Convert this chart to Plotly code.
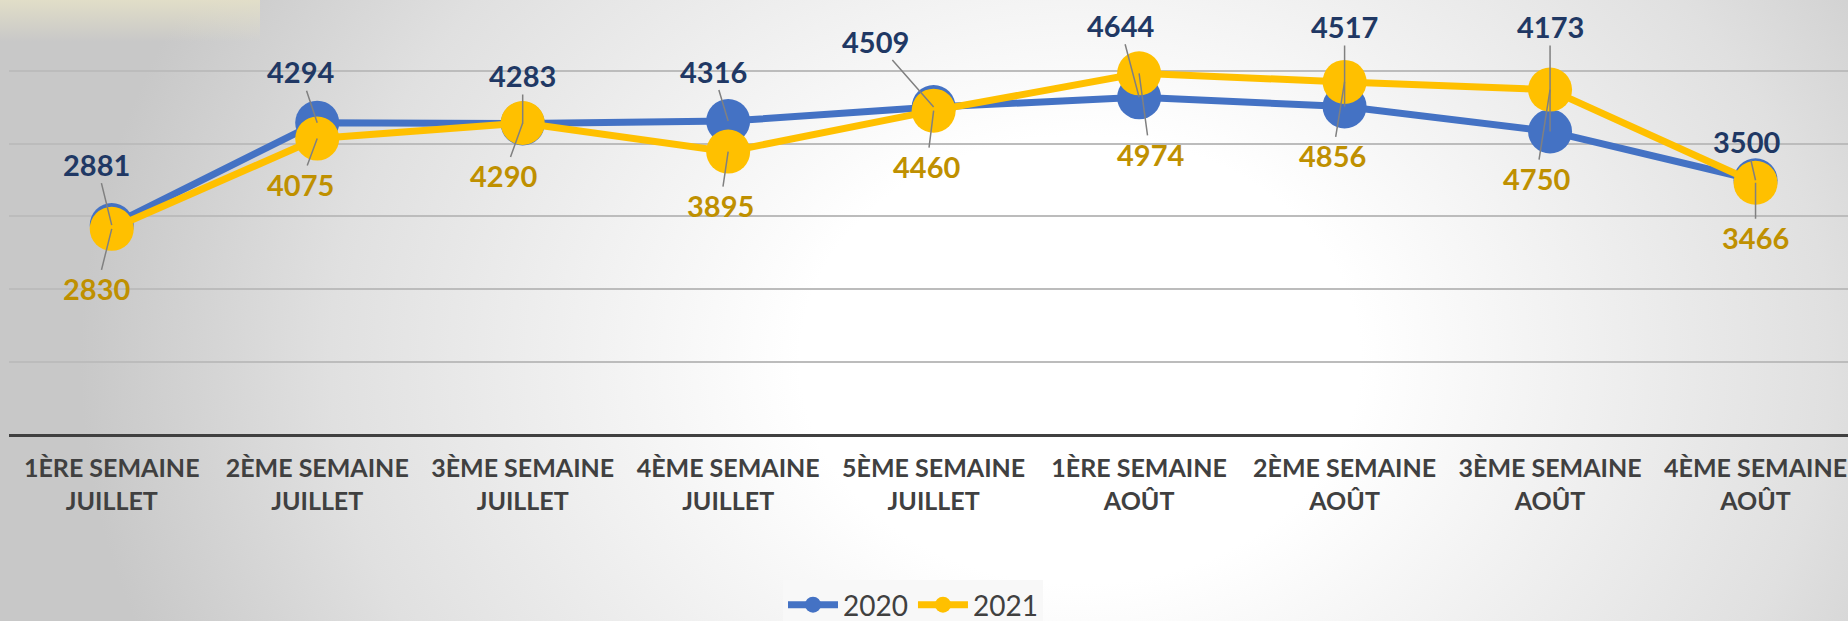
import base64
import plotly.graph_objects as go

categories = [
    "1ÈRE SEMAINE<br>JUILLET", "2ÈME SEMAINE<br>JUILLET", "3ÈME SEMAINE<br>JUILLET",
    "4ÈME SEMAINE<br>JUILLET", "5ÈME SEMAINE<br>JUILLET", "1ÈRE SEMAINE<br>AOÛT",
    "2ÈME SEMAINE<br>AOÛT", "3ÈME SEMAINE<br>AOÛT", "4ÈME SEMAINE<br>AOÛT",
]
values_2020 = [2881, 4294, 4283, 4316, 4509, 4644, 4517, 4173, 3500]
values_2021 = [2830, 4075, 4290, 3895, 4460, 4974, 4856, 4750, 3466]

# label offsets in pixels (style)
off_2020 = [(-15, -61), (-17, -51), (0, -48), (-15, -50), (-58, -66), (-19, -72), (0, -80), (0, -105), (-9, -39)]
off_2021 = [(-15, 60), (-17, 46), (-19, 53), (-8, 54), (-7, 56), (11, 81), (-12, 74), (-14, 89), (0, 55)]

W, H = 1848, 621
L, T, B = 9, 0, 187
plot_h = H - T - B
plot_w = W - L

svg = f'''<svg xmlns="http://www.w3.org/2000/svg" width="{W}" height="{H}" viewBox="0 0 {W} {H}" preserveAspectRatio="none">
<defs>
<radialGradient id="g" gradientUnits="userSpaceOnUse" cx="1080" cy="360" r="1000" gradientTransform="translate(1080 360) scale(1 0.8) translate(-1080 -360)">
<stop offset="0" stop-color="#ffffff"/>
<stop offset="0.28" stop-color="#ffffff"/>
<stop offset="0.75" stop-color="#e0e0e0"/>
<stop offset="1" stop-color="#c8c8c8"/>
</radialGradient>
<linearGradient id="b" x1="0" y1="0" x2="0" y2="1">
<stop offset="0" stop-color="#e4e0c8" stop-opacity="0.9"/>
<stop offset="1" stop-color="#e4e0c8" stop-opacity="0"/>
</linearGradient>
</defs>
<rect x="0" y="0" width="{W}" height="{H}" fill="url(#g)"/>
<rect x="0" y="0" width="260" height="42" fill="url(#b)"/>
</svg>'''
bg_uri = "data:image/svg+xml;base64," + base64.b64encode(svg.encode()).decode()

x_idx = list(range(len(categories)))

fig = go.Figure()
fig.add_trace(go.Scatter(
    x=x_idx, y=values_2020, name="2020", mode="lines+markers",
    line=dict(color="#4472C4", width=7),
    marker=dict(size=44, color="#4472C4", line=dict(width=0)),
))
fig.add_trace(go.Scatter(
    x=x_idx, y=values_2021, name="2021", mode="lines+markers",
    line=dict(color="#FFC000", width=7),
    marker=dict(size=44, color="#FFC000", line=dict(width=0)),
))

annotations = []
for vals, offs, col in ((values_2020, off_2020, "#203864"), (values_2021, off_2021, "#BF9000")):
    for i, (v, (ax, ay)) in enumerate(zip(vals, offs)):
        annotations.append(dict(
            x=i, y=v, xref="x", yref="y", text=str(v),
            showarrow=True, arrowhead=0, arrowwidth=1.5, arrowcolor="#808080",
            ax=ax, ay=ay, standoff=0,
            font=dict(family="Lato", size=29, color=col, weight="bold"),
        ))

fig.update_layout(
    width=W, height=H,
    margin=dict(l=L, r=0, t=T, b=B, autoexpand=False),
    paper_bgcolor="#ffffff",
    plot_bgcolor="rgba(0,0,0,0)",
    showlegend=True,
    legend=dict(
        orientation="h", xanchor="center", yanchor="top",
        x=(913 - L) / plot_w, y=(plot_h - 580) / plot_h,
        bgcolor="#f8f8f8",
        font=dict(family="Lato", size=28, color="#404040"),
        itemwidth=50,
    ),
    xaxis=dict(
        tickmode="array", tickvals=x_idx, ticktext=categories,
        range=[-0.5, 8.45],
        showgrid=False, zeroline=False,
        showline=True, linecolor="#404040", linewidth=3,
        ticks="", ticklabelstandoff=10,
        tickfont=dict(family="Lato", size=25, color="#404040", weight="bold"),
    ),
    yaxis=dict(
        range=[0, 5986], dtick=1000, tick0=0,
        showgrid=True, gridcolor="#bcbcbc", gridwidth=1.5,
        zeroline=False, showticklabels=False, showline=False,
    ),
    annotations=annotations,
    images=[dict(
        source=bg_uri, xref="paper", yref="paper",
        x=-L / plot_w, y=1 + T / plot_h,
        sizex=W / plot_w, sizey=H / plot_h,
        xanchor="left", yanchor="top", sizing="stretch", layer="below",
    )],
)

fig.write_html(
    "out.html",
    config={"displayModeBar": False},
    post_script="document.body.style.margin='0';document.body.style.overflow='hidden';",
)
